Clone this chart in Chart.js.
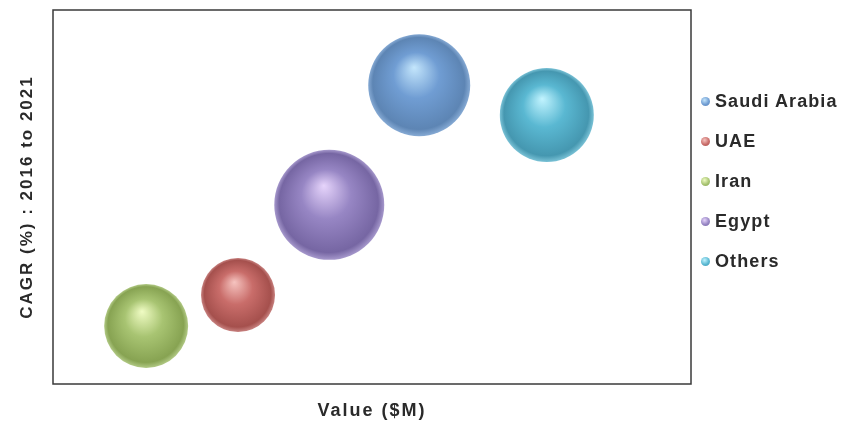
<!DOCTYPE html>
<html>
<head>
<meta charset="utf-8">
<script src="https://cdn.jsdelivr.net/npm/chart.js@4.4.1/dist/chart.umd.min.js"></script>
<style>
  html, body { margin: 0; padding: 0; background: #fff; }
  #wrap { position: relative; width: 848px; height: 428px; }
  #legend { position: absolute; left: 701px; top: 81px; font-family: "Liberation Sans", Arial, sans-serif;
            font-weight: bold; font-size: 18px; color: #2a2a2a; letter-spacing: 1.1px; }
  #legend .item { height: 40px; line-height: 40px; white-space: nowrap; display: flex; align-items: center; }
  #legend .dot { width: 9px; height: 9px; border-radius: 50%; margin-right: 5px; flex: none; }
</style>
</head>
<body>
<div id="wrap">
  <canvas id="c" width="848" height="428"></canvas>
  <div id="legend"></div>
</div>
<script>
// ---- data ----
const countries = ["Saudi Arabia", "UAE", "Iran", "Egypt", "Others"];
const valueX    = [57.4, 29.0, 14.6, 43.3, 77.4];   // Value ($M), relative units (no ticks shown)
const cagrY     = [79.9, 23.8, 15.5, 47.9, 71.9];   // CAGR (%), relative units (no ticks shown)
const bubbleR   = [51, 37, 42, 55, 47];             // bubble size
const xTitle = "Value ($M)";
const yTitle = "CAGR (%) : 2016 to 2021";

// ---- styles ----
const baseColors      = ["#709dd3", "#c96d6a", "#a8c472", "#9786c4", "#5ab8d2"];
const highlightColors = ["#c4e6fc", "#f6c4c0", "#f0fcc4", "#e6d4fb", "#c2f4ff"];
const darkColors      = ["#5d85b4", "#a5504d", "#87a352", "#7666a3", "#4597b0"];
const rimColors       = ["#86aad4", "#c88280", "#b2ca86", "#a698cc", "#7ac2d6"];

function sphere(context) {
  const i = context.datasetIndex;
  const chart = context.chart;
  const raw = context.raw;
  const xs = chart.scales && chart.scales.x, ys = chart.scales && chart.scales.y;
  if (!raw || !xs || !ys) return baseColors[i];
  const cx = xs.getPixelForValue(raw.x), cy = ys.getPixelForValue(raw.y), r = raw.r;
  if (![cx, cy, r].every(Number.isFinite)) return baseColors[i];
  const g = chart.ctx.createRadialGradient(cx - 0.1 * r, cy - 0.35 * r, 0, cx, cy, r);
  g.addColorStop(0, highlightColors[i]);
  g.addColorStop(0.45, baseColors[i]);
  g.addColorStop(0.9, darkColors[i]);
  g.addColorStop(1, rimColors[i]);
  return g;
}

const datasets = countries.map((name, i) => ({
  label: name,
  data: [{ x: valueX[i], y: cagrY[i], r: bubbleR[i] }],
  backgroundColor: sphere,
  borderWidth: 0,
  hoverBorderWidth: 0
}));

const frame = {
  id: 'frame',
  beforeDatasetsDraw(chart) {
    const { ctx, chartArea: a } = chart;
    ctx.save();
    ctx.strokeStyle = '#3a3a3a';
    ctx.lineWidth = 1.5;
    ctx.strokeRect(a.left, a.top, a.right - a.left, a.bottom - a.top);
    ctx.restore();
  }
};
const spacing = {
  id: 'spacing',
  beforeDraw(chart) { try { chart.ctx.letterSpacing = '2px'; } catch (e) {} },
  afterDraw(chart) { try { chart.ctx.letterSpacing = '0px'; } catch (e) {} }
};

// HTML legend built from the same arrays
const lg = document.getElementById('legend');
countries.forEach((name, i) => {
  const it = document.createElement('div'); it.className = 'item';
  const d = document.createElement('span'); d.className = 'dot';
  d.style.background = `radial-gradient(circle at 40% 35%, ${highlightColors[i]}, ${baseColors[i]} 55%, ${darkColors[i]})`;
  const t = document.createElement('span'); t.textContent = name;
  it.appendChild(d); it.appendChild(t); lg.appendChild(it);
});

new Chart(document.getElementById('c'), {
  type: 'bubble',
  data: { datasets },
  plugins: [frame, spacing],
  options: {
    responsive: false,
    animation: false,
    events: [],
    layout: { autoPadding: false, padding: { top: 10, right: 157, left: 0, bottom: 0 } },
    plugins: { legend: { display: false }, tooltip: { enabled: false } },
    scales: {
      x: {
        min: 0, max: 100,
        grid: { display: false, drawTicks: false },
        border: { display: false },
        ticks: { display: false },
        title: { display: true, text: xTitle, color: '#2a2a2a',
                 font: { family: 'Liberation Sans', size: 18, weight: 'bold' },
                 padding: { top: 0, bottom: 6 } },
        afterFit(s) { s.height = 44; }
      },
      y: {
        min: 0, max: 100,
        grid: { display: false, drawTicks: false },
        border: { display: false },
        ticks: { display: false },
        title: { display: true, text: yTitle, color: '#2a2a2a',
                 font: { family: 'Liberation Sans', size: 17, weight: 'bold' },
                 padding: { top: 17, bottom: 0 } },
        afterFit(s) { s.width = 53; }
      }
    }
  }
});
</script>
</body>
</html>
